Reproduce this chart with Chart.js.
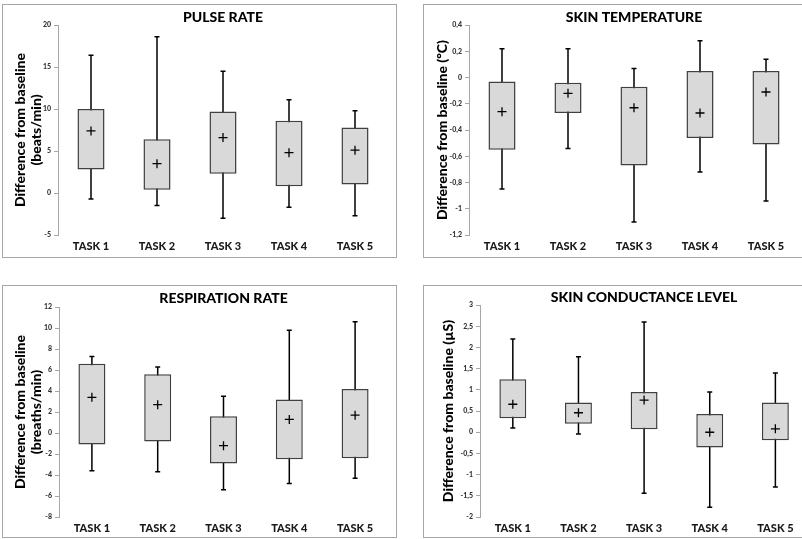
<!DOCTYPE html>
<html>
<head>
<meta charset="utf-8">
<script src="https://cdn.jsdelivr.net/npm/chart.js@4.4.1/dist/chart.umd.min.js"></script>
<style>
  html, body { margin: 0; padding: 0; background: #fff; overflow: hidden; width: 802px; height: 539px; }
  .panel { position: absolute; border: 1px solid #a6a6a6; background: #fff; }
  .panel canvas { display: block; }
</style>
</head>
<body>
<div class="panel" style="left:2px;top:4px;width:393px;height:252px"><canvas id="pulse" width="393" height="252"></canvas></div>
<div class="panel" style="left:423px;top:4px;width:390px;height:252px"><canvas id="skinTemp" width="390" height="252"></canvas></div>
<div class="panel" style="left:2px;top:285px;width:393px;height:251px"><canvas id="resp" width="393" height="251"></canvas></div>
<div class="panel" style="left:423px;top:285px;width:390px;height:251px"><canvas id="scl" width="390" height="251"></canvas></div>

<script>
const tasks = ["TASK 1", "TASK 2", "TASK 3", "TASK 4", "TASK 5"];

// pulse rate (beats/min)
const pulseMin = [-0.7, -1.5, -3.0, -1.7, -2.7];
const pulseQ1 = [2.8, 0.4, 2.3, 0.8, 1.0];
const pulseQ3 = [10.0, 6.4, 9.7, 8.6, 7.8];
const pulseMax = [16.4, 18.6, 14.5, 11.1, 9.8];
const pulseMean = [7.4, 3.5, 6.6, 4.8, 5.1];

// skin temperature (ºC)
const tempMin = [-0.85, -0.54, -1.1, -0.72, -0.94];
const tempQ1 = [-0.55, -0.27, -0.67, -0.46, -0.51];
const tempQ3 = [-0.03, -0.04, -0.07, 0.05, 0.05];
const tempMax = [0.22, 0.22, 0.07, 0.28, 0.14];
const tempMean = [-0.26, -0.12, -0.23, -0.27, -0.11];

// respiration rate (breaths/min)
const respMin = [-3.6, -3.7, -5.4, -4.8, -4.3];
const respQ1 = [-1.1, -0.8, -2.9, -2.5, -2.4];
const respQ3 = [6.6, 5.6, 1.6, 3.2, 4.2];
const respMax = [7.3, 6.3, 3.5, 9.8, 10.6];
const respMean = [3.4, 2.7, -1.2, 1.3, 1.7];

// skin conductance level (µS)
const sclMin = [0.1, -0.04, -1.44, -1.77, -1.29];
const sclQ1 = [0.33, 0.2, 0.07, -0.36, -0.19];
const sclQ3 = [1.25, 0.7, 0.95, 0.43, 0.7];
const sclMax = [2.2, 1.78, 2.6, 0.95, 1.4];
const sclMean = [0.66, 0.46, 0.76, 0.0, 0.08];

const FONT = "Lato";
const HEAVY = "900";

// whiskers: vertical line min..max with small caps, drawn under the boxes
const whiskerPlugin = {
  id: "whiskers",
  beforeDatasetsDraw(chart, args, opts) {
    const { ctx, scales: { x, y } } = chart;
    ctx.save();
    ctx.strokeStyle = "#000";
    ctx.lineWidth = 1.5;
    opts.min.forEach((lo, i) => {
      const cx = x.getPixelForValue(i);
      const yLo = y.getPixelForValue(lo);
      const yHi = y.getPixelForValue(opts.max[i]);
      ctx.beginPath();
      ctx.moveTo(cx, yLo);
      ctx.lineTo(cx, yHi);
      ctx.moveTo(cx - 2.5, yLo);
      ctx.lineTo(cx + 2.5, yLo);
      ctx.moveTo(cx - 2.5, yHi);
      ctx.lineTo(cx + 2.5, yHi);
      ctx.stroke();
    });
    ctx.restore();
  }
};

function commaTick(v) {
  return String(+v.toFixed(2)).replace(".", ",");
}

function makePanel(id, p) {
  new Chart(document.getElementById(id), {
    type: "bar",
    data: {
      labels: tasks,
      datasets: [
        {
          type: "line",
          data: p.mean,
          showLine: false,
          pointStyle: "cross",
          pointRadius: 4.5,
          pointBorderWidth: 1.3,
          borderColor: "#000",
          backgroundColor: "#000"
        },
        {
          data: p.q1.map((v, i) => [v, p.q3[i]]),
          backgroundColor: "#d9d9d9",
          borderColor: "#404040",
          borderWidth: 1.5,
          borderSkipped: false,
          barPercentage: 0.41,
          categoryPercentage: 1
        }
      ]
    },
    options: {
      responsive: false,
      animation: false,
      devicePixelRatio: 1,
      layout: { padding: { left: 0, right: p.padRight, top: 0, bottom: 0 } },
      plugins: {
        legend: { display: false },
        tooltip: { enabled: false },
        title: {
          display: true,
          text: p.title,
          fullSize: false,
          color: "#000",
          font: { family: FONT, size: 14, weight: HEAVY, lineHeight: 1.15 },
          padding: { top: p.titleTop, bottom: p.titleBottom }
        },
        whiskers: { min: p.min, max: p.max }
      },
      scales: {
        x: {
          afterFit: (s) => { s.height = p.xHeight; },
          grid: { display: false, drawTicks: false },
          border: { display: false },
          ticks: { color: "#1a1a1a", padding: 5, font: { family: FONT, size: 11, weight: HEAVY } }
        },
        y: {
          min: p.yMin,
          max: p.yMax,
          afterFit: (s) => { s.width = p.yWidth; },
          grid: { drawOnChartArea: false, drawTicks: true, tickLength: 4, color: "#a6a6a6" },
          border: { display: true, color: "#a6a6a6", width: 1 },
          ticks: {
            stepSize: p.step,
            color: "#333",
            padding: 3,
            font: { family: FONT, size: 7, weight: HEAVY },
            callback: commaTick
          },
          title: {
            display: true,
            text: p.yTitle,
            color: "#000",
            font: { family: FONT, size: 14, weight: HEAVY, lineHeight: 1.143 },
            padding: { top: p.yTitlePad, bottom: 0 }
          }
        }
      }
    },
    plugins: [whiskerPlugin]
  });
}

makePanel("pulse", {
  title: "PULSE RATE",
  yTitle: ["Difference from baseline", "(beats/min)"],
  min: pulseMin, q1: pulseQ1, q3: pulseQ3, max: pulseMax, mean: pulseMean,
  yMin: -5, yMax: 20, step: 5,
  yWidth: 55, xHeight: 22, padRight: 8, titleTop: 4, titleBottom: 0, yTitlePad: 9
});

makePanel("skinTemp", {
  title: "SKIN TEMPERATURE",
  yTitle: "Difference from baseline (ºC)",
  min: tempMin, q1: tempQ1, q3: tempQ3, max: tempMax, mean: tempMean,
  yMin: -1.2, yMax: 0.4, step: 0.2,
  yWidth: 45, xHeight: 22, padRight: 15, titleTop: 4, titleBottom: 0, yTitlePad: 10
});

makePanel("resp", {
  title: "RESPIRATION RATE",
  yTitle: ["Difference from baseline", "(breaths/min)"],
  min: respMin, q1: respQ1, q3: respQ3, max: respMax, mean: respMean,
  yMin: -8, yMax: 12, step: 2,
  yWidth: 56, xHeight: 20, padRight: 8, titleTop: 4, titleBottom: 1, yTitlePad: 9
});

makePanel("scl", {
  title: "SKIN CONDUCTANCE LEVEL",
  yTitle: "Difference from baseline (µS)",
  min: sclMin, q1: sclQ1, q3: sclQ3, max: sclMax, mean: sclMean,
  yMin: -2, yMax: 3, step: 0.5,
  yWidth: 56, xHeight: 20, padRight: 4, titleTop: 3, titleBottom: 0, yTitlePad: 16
});
</script>
</body>
</html>
